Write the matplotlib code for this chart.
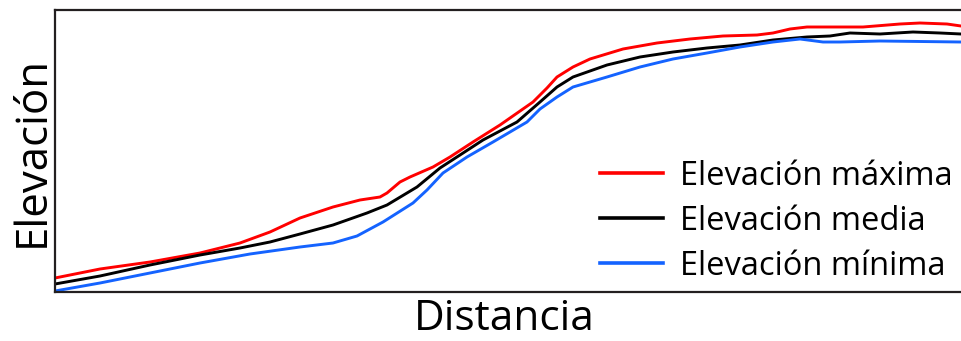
import matplotlib
matplotlib.use("Agg")
import matplotlib.pyplot as plt

plt.rcParams['font.family'] = ['Open Sans', 'DejaVu Sans']

# Profile samples: distance (arbitrary units) and elevation (arbitrary units)
dist_max = [0, 45, 95, 145, 185, 215, 245, 278, 305, 325, 332, 345, 355, 378, 395,
            418, 445, 478, 492, 502, 518, 535, 568, 602, 635, 668, 702, 718, 735,
            752, 785, 808, 845, 865, 892, 906]
elev_max = [14, 23, 30, 39, 49, 60, 74, 85, 92, 95, 99, 110, 115, 125, 135,
            150, 167, 190, 204, 215, 225, 233, 243, 249, 253, 256, 257, 259, 263,
            265, 265, 265, 268, 269, 268, 266]

dist_mean = [0, 45, 95, 145, 185, 215, 245, 278, 312, 332, 362, 385, 405, 428,
             462, 485, 502, 518, 552, 585, 618, 652, 685, 718, 752, 775, 795, 825,
             858, 885, 906]
elev_mean = [8, 16, 27, 37, 44, 50, 58, 67, 79, 87, 105, 124, 137, 152,
             170, 190, 205, 215, 227, 235, 240, 244, 247, 252, 255, 256, 259, 258,
             260, 259, 258]

dist_min = [0, 45, 95, 145, 195, 245, 278, 302, 328, 358, 372, 388, 412, 438,
            472, 485, 502, 518, 552, 585, 618, 652, 685, 718, 745, 768, 785, 825, 906]
elev_min = [1, 9, 19, 29, 38, 45, 49, 56, 70, 89, 102, 119, 135, 150,
            170, 183, 195, 205, 215, 225, 233, 239, 245, 250, 253, 250, 250, 251, 250]

labels = ["Elevación máxima", "Elevación media", "Elevación mínima"]
colors = ["#ff0000", "#000000", "#1463ff"]

fig = plt.figure(figsize=(9.61, 3.41), dpi=100)
# the plotting box runs past the right edge of the figure
ax = fig.add_axes([55 / 961, 49 / 341, 925 / 961, 282 / 341])

for d, e, lab, col in zip([dist_max, dist_mean, dist_min],
                          [elev_max, elev_mean, elev_min], labels, colors):
    ax.plot(d, e, color=col, lw=2.1, label=lab, solid_joinstyle='round')

ax.set_xlim(0, 925)
ax.set_ylim(0, 282)
ax.set_xticks([])
ax.set_yticks([])
for s in ax.spines.values():
    s.set_color("#231f20")
    s.set_linewidth(1.6)

ax.set_xlabel("Distancia", fontsize=30.5)
ax.xaxis.set_label_coords(0.486, -0.02, transform=ax.transAxes)
ax.xaxis.label.set_va("top")
ax.set_ylabel("Elevación", fontsize=31.5, labelpad=0)

leg = ax.legend(loc="lower right", bbox_to_anchor=(920 / 925, -0.048), frameon=False,
                fontsize=23.5, handlelength=1.93, handletextpad=0.52,
                labelspacing=0.37, borderaxespad=0.3)
for h in leg.get_lines():
    h.set_linewidth(2.6)

fig.savefig("out.png", dpi=100)
